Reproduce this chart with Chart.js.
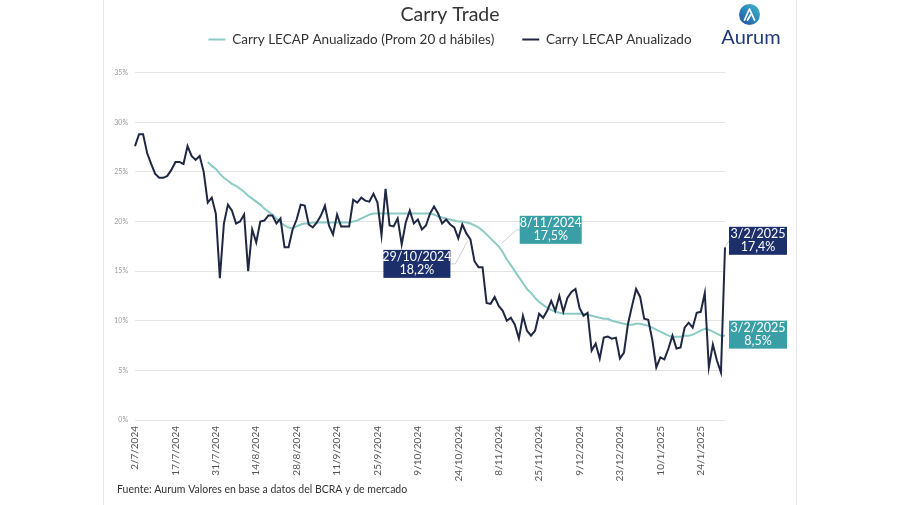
<!DOCTYPE html>
<html><head><meta charset="utf-8">
<script src="https://cdn.jsdelivr.net/npm/chart.js@4.4.1/dist/chart.umd.min.js"></script>
<style>html,body{margin:0;padding:0;background:#fff;}canvas{display:block;}</style>
</head><body>
<canvas id="c" width="900" height="505"></canvas>
<script>
// Business days (categories)
const categories = [
 '2/7/2024','3/7/2024','4/7/2024','5/7/2024','8/7/2024','10/7/2024','11/7/2024','12/7/2024','15/7/2024','16/7/2024',
 '17/7/2024','18/7/2024','19/7/2024','22/7/2024','23/7/2024','24/7/2024','25/7/2024','26/7/2024','29/7/2024','30/7/2024',
 '31/7/2024','1/8/2024','2/8/2024','5/8/2024','6/8/2024','7/8/2024','8/8/2024','9/8/2024','12/8/2024','13/8/2024',
 '14/8/2024','15/8/2024','16/8/2024','19/8/2024','20/8/2024','21/8/2024','22/8/2024','23/8/2024','26/8/2024','27/8/2024',
 '28/8/2024','29/8/2024','30/8/2024','2/9/2024','3/9/2024','4/9/2024','5/9/2024','6/9/2024','9/9/2024','10/9/2024',
 '11/9/2024','12/9/2024','13/9/2024','16/9/2024','17/9/2024','18/9/2024','19/9/2024','20/9/2024','23/9/2024','24/9/2024',
 '25/9/2024','26/9/2024','27/9/2024','30/9/2024','1/10/2024','2/10/2024','3/10/2024','4/10/2024','7/10/2024','8/10/2024',
 '9/10/2024','10/10/2024','14/10/2024','15/10/2024','16/10/2024','17/10/2024','18/10/2024','21/10/2024','22/10/2024','23/10/2024',
 '24/10/2024','25/10/2024','28/10/2024','29/10/2024','30/10/2024','31/10/2024','4/11/2024','5/11/2024','6/11/2024','7/11/2024',
 '8/11/2024','11/11/2024','12/11/2024','13/11/2024','14/11/2024','15/11/2024','19/11/2024','20/11/2024','21/11/2024','22/11/2024',
 '25/11/2024','26/11/2024','27/11/2024','28/11/2024','29/11/2024','2/12/2024','3/12/2024','4/12/2024','5/12/2024','6/12/2024',
 '9/12/2024','10/12/2024','11/12/2024','12/12/2024','13/12/2024','16/12/2024','17/12/2024','18/12/2024','19/12/2024','20/12/2024',
 '23/12/2024','26/12/2024','27/12/2024','30/12/2024','2/1/2025','3/1/2025','6/1/2025','7/1/2025','8/1/2025','9/1/2025',
 '10/1/2025','13/1/2025','14/1/2025','15/1/2025','16/1/2025','17/1/2025','20/1/2025','21/1/2025','22/1/2025','23/1/2025',
 '24/1/2025','27/1/2025','28/1/2025','29/1/2025','30/1/2025','31/1/2025','3/2/2025'
];

// Carry LECAP annualized (%)
const carryDaily = [
 27.6,28.8,28.8,26.9,25.8,24.8,24.4,24.4,24.6,25.2,
 26.0,26.0,25.8,27.6,26.6,26.2,26.6,25.0,21.9,22.4,
 20.8,14.3,19.8,21.7,21.1,19.8,20.0,20.7,15.0,19.2,
 17.9,20.0,20.1,20.6,20.6,19.8,20.3,17.4,17.4,19.2,
 20.2,21.7,21.6,19.7,19.4,19.9,20.6,21.6,19.6,18.7,
 20.7,19.5,19.5,19.5,22.2,21.9,22.4,22.1,22.0,22.8,
 21.9,18.6,23.3,19.6,19.5,20.3,17.7,19.9,21.1,19.8,
 20.2,19.2,19.6,20.8,21.5,20.8,19.8,20.2,19.7,19.4,
 18.3,19.7,18.8,18.2,16.0,15.4,15.4,11.8,11.7,12.4,
 11.5,11.0,10.0,10.3,9.6,8.2,10.5,9.0,8.5,9.0,
 10.7,10.3,11.0,12.0,11.0,12.5,10.9,12.3,12.9,13.2,
 11.3,10.5,10.8,7.0,7.7,6.2,8.3,8.4,8.2,8.3,
 6.2,6.8,9.7,11.5,13.2,12.4,10.2,10.1,8.1,5.3,
 6.3,6.1,7.2,8.5,7.2,7.3,9.3,9.8,9.3,10.8,
 10.9,12.8,5.3,7.6,6.0,4.8,17.4
];

// Carry LECAP annualized, 20 business-day average (%)
const carryAvg20 = [
 null,null,null,null,null,null,null,null,null,null,
 null,null,null,null,null,null,null,null,26.0,25.6,
 25.3,24.8,24.4,24.1,23.8,23.6,23.3,23.0,22.6,22.3,
 22.0,21.7,21.3,21.0,20.7,20.3,19.9,19.6,19.4,19.3,
 19.5,19.7,19.8,19.8,19.9,19.9,19.9,19.9,19.9,19.9,
 19.9,19.9,19.9,19.9,20.0,20.1,20.3,20.5,20.7,20.8,
 20.8,20.8,20.8,20.8,20.8,20.8,20.8,20.8,20.8,20.8,
 20.8,20.8,20.8,20.8,20.7,20.5,20.4,20.3,20.2,20.1,
 20.0,20.0,19.9,19.8,19.6,19.4,19.1,18.7,18.3,17.9,
 17.5,16.9,16.2,15.6,15.0,14.4,13.8,13.2,12.8,12.3,
 11.9,11.6,11.3,11.1,10.9,10.8,10.7,10.7,10.7,10.7,
 10.7,10.7,10.6,10.5,10.4,10.3,10.2,10.2,10.0,9.9,
 9.8,9.7,9.6,9.6,9.7,9.7,9.6,9.5,9.3,9.1,
 8.9,8.7,8.5,8.4,8.4,8.4,8.5,8.5,8.6,8.8,
 9.0,9.2,9.1,8.9,8.7,8.5,8.5
];

const seriesNames = ['Carry LECAP Anualizado (Prom 20 d hábiles)', 'Carry LECAP Anualizado'];
const tickEvery = 10;
// callouts: dataset index + date
const callouts = [
 {ds:1, date:'29/10/2024', place:'A'},
 {ds:0, date:'8/11/2024',  place:'B'},
 {ds:1, date:'3/2/2025',   place:'C'},
 {ds:0, date:'3/2/2025',   place:'D'}
];

const FONT = "Lato, 'Open Sans', sans-serif";
Chart.defaults.font.family = FONT;

const extras = {
  id:'extras',
  beforeDraw(chart){
    const ctx = chart.ctx;
    ctx.save();
    ctx.fillStyle = '#fff';
    ctx.fillRect(0,0,chart.width,chart.height);
    ctx.strokeStyle = '#e8e8e8'; ctx.lineWidth = 1;
    ctx.beginPath(); ctx.moveTo(103.5,0); ctx.lineTo(103.5,505); ctx.moveTo(796.5,0); ctx.lineTo(796.5,505); ctx.stroke();
    ctx.restore();
  },
  afterDraw(chart){
    const ctx = chart.ctx;
    const xs = chart.scales.x, ys = chart.scales.y;
    ctx.save();
    // footer
    ctx.fillStyle = '#333'; ctx.font = '10.5px ' + FONT; ctx.textAlign = 'left'; ctx.textBaseline = 'middle';
    ctx.fillText('Fuente: Aurum Valores en base a datos del BCRA y de mercado', 117, 490);
    // logo
    const g = ctx.createLinearGradient(741, 24, 758, 5);
    g.addColorStop(0, '#1f56a8'); g.addColorStop(1, '#3fb3c9');
    ctx.fillStyle = g; ctx.beginPath(); ctx.arc(749.5, 14.5, 10.5, 0, Math.PI*2); ctx.fill();
    ctx.strokeStyle = '#fff'; ctx.lineWidth = 1.8; ctx.lineJoin = 'round'; ctx.lineCap = 'round';
    ctx.beginPath(); ctx.moveTo(744.5, 20); ctx.lineTo(749.5, 9); ctx.lineTo(754.5, 20); ctx.stroke();
    ctx.beginPath(); ctx.moveTo(747.5, 20); ctx.lineTo(750.5, 15); ctx.stroke();
    ctx.fillStyle = '#1f3a78'; ctx.font = '20px ' + FONT; ctx.textAlign = 'center'; ctx.textBaseline = 'middle';
    ctx.fillText('Aurum', 751, 38);
    // callouts
    const datasets = [carryAvg20, carryDaily];
    const boxColor = ['#3a9ea6', '#1c2f6a'];
    callouts.forEach(c => {
      const i = categories.indexOf(c.date);
      const v = datasets[c.ds][i];
      const px = xs.getPixelForValue(i), py = ys.getPixelForValue(v);
      let left, top, w, h = 28;
      if (c.place === 'A'){ w = 67; left = px - 87; top = py + 10.5; }
      if (c.place === 'B'){ w = 62; left = px + 21; top = py - 30.5; }
      if (c.place === 'C'){ w = 58; left = px + 4; top = py - 20.5; }
      if (c.place === 'D'){ w = 58; left = px + 4; top = py - 15; }
      ctx.strokeStyle = '#cfcfcf'; ctx.lineWidth = 1;
      ctx.beginPath();
      if (c.place === 'A'){ ctx.moveTo(left + w, top + 14); ctx.lineTo(left + w + 5, top + 14); ctx.lineTo(px - 3, py + 2); }
      if (c.place === 'B'){ ctx.moveTo(px + 3, py - 3); ctx.lineTo(left - 3, top + 14); ctx.lineTo(left, top + 14); }
      if (c.place === 'C'){ ctx.moveTo(px, py); ctx.lineTo(left, top + 14); }
      ctx.stroke();
      ctx.fillStyle = boxColor[c.ds];
      ctx.fillRect(left, top, w, h);
      ctx.fillStyle = '#fff'; ctx.font = '12.5px ' + FONT; ctx.textAlign = 'center'; ctx.textBaseline = 'middle';
      ctx.fillText(c.date, left + w/2, top + 7.5);
      ctx.fillText(v.toFixed(1).replace('.', ',') + '%', left + w/2, top + 20.5);
    });
    ctx.restore();
  }
};

new Chart(document.getElementById('c'), {
  type:'line',
  data:{
    labels: categories,
    datasets:[
      {label: seriesNames[0], data: carryAvg20, borderColor:'#8ccbc5', backgroundColor:'#8ccbc5', borderWidth:2, pointRadius:0, tension:0, order:1, spanGaps:false},
      {label: seriesNames[1], data: carryDaily, borderColor:'#1f2742', backgroundColor:'#1f2742', borderWidth:2, pointRadius:0, tension:0, order:0}
    ]
  },
  options:{
    responsive:false, animation:false, devicePixelRatio:1,
    layout:{padding:0},
    plugins:{
      title:{display:true, text:'Carry Trade', color:'#333', font:{size:19.5, weight:'normal', lineHeight:0.75}, padding:{top:7.7, bottom:-17.7}},
      legend:{display:true, position:'top', labels:{usePointStyle:true, pointStyle:'line', pointStyleWidth:17, color:'#333', font:{size:13.5}, padding:28, sort:(a,b)=>a.datasetIndex-b.datasetIndex}},
      tooltip:{enabled:false}
    },
    scales:{
      x:{type:'category', position:'bottom', offset:false,
         grid:{display:false, drawTicks:false}, border:{display:false},
         ticks:{autoSkip:false, minRotation:90, maxRotation:90, padding:6, color:'#555', font:{size:10},
                callback:function(v,i){ return i % tickEvery === 0 ? categories[i] : null; }},
         afterFit(s){ s.height = 85; }},
      xTop:{type:'category', position:'top', display:true, grid:{display:false}, border:{display:false}, ticks:{display:false},
         afterFit(s){ s.height = 16.5; }},
      y:{type:'linear', position:'left', min:0, max:35,
         ticks:{stepSize:5, padding:7, color:'#999', font:{size:7}, callback:v=>v+'%'},
         grid:{color:'#e4e4e4', drawTicks:false, lineWidth:1}, border:{display:false},
         afterFit(s){ s.width = 135; }},
      yRight:{type:'linear', position:'right', display:true, grid:{display:false}, border:{display:false}, ticks:{display:false},
         afterFit(s){ s.width = 175; }}
    }
  },
  plugins:[extras]
});
</script>
</body></html>
